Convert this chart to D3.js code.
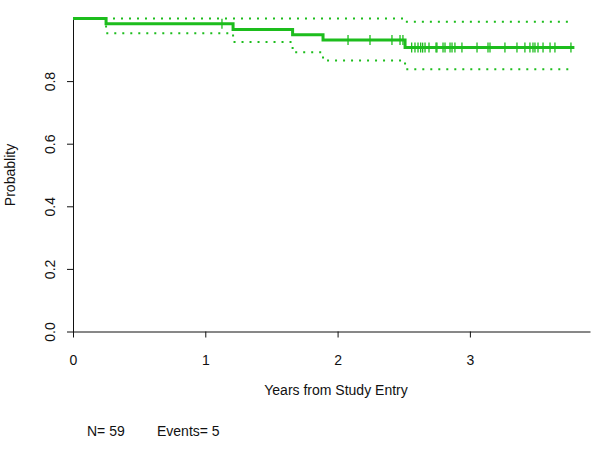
<!DOCTYPE html>
<html>
<head>
<meta charset="utf-8">
<script src="https://cdn.jsdelivr.net/npm/d3@7"></script>
<style>
  body { margin: 0; background: #fff; }
  svg text { font-family: "Liberation Sans", Arial, sans-serif; font-size: 14px; fill: #111; }
</style>
</head>
<body>
<div id="chart"></div>
<script>
// step times (years) and Kaplan-Meier estimate
var stepTimes = [0, 0.25, 1.21, 1.66, 1.89, 2.51];
var survival  = [1, 0.983, 0.965, 0.948, 0.931, 0.907];
var upperCI   = [1, 1, 1, 1, 1, 0.99];
var lowerCI   = [1, 0.953, 0.925, 0.892, 0.866, 0.838];
var lastTime = 3.79;
var lastBandTime = 3.77;

// censored observations
var censorTimes = [1.126, 2.079, 2.245, 2.411, 2.472, 2.494, 2.56, 2.585, 2.608, 2.628,
    2.643, 2.661, 2.691, 2.744, 2.751, 2.797, 2.812, 2.85, 2.865, 2.887, 2.94, 3.054,
    3.137, 3.152, 3.265, 3.356, 3.416, 3.454, 3.477, 3.492, 3.515, 3.553, 3.606, 3.643, 3.764];

var xTicks = [0, 1, 2, 3];
var yTicks = [0, 0.2, 0.4, 0.6, 0.8];
var nTotal = 59;
var nEvents = 5;

var green = "#1dbd1d";
var width = 600, height = 449;

var svg = d3.select("#chart").append("svg")
    .attr("width", width)
    .attr("height", height);

var x = d3.scaleLinear().domain([0, 3.908]).range([73, 590]);
var y = d3.scaleLinear().domain([0, 1]).range([331.5, 18.5]);

// axes
var xAxis = svg.append("g")
    .attr("transform", "translate(0," + y(0) + ")")
    .call(d3.axisBottom(x).tickValues(xTicks).tickSize(6).tickSizeOuter(0).tickFormat(d3.format("d")));
xAxis.selectAll("text").attr("y", 33).attr("dy", 0);

var yAxis = svg.append("g")
    .attr("transform", "translate(" + x(0) + ",0)")
    .call(d3.axisLeft(y).tickValues(yTicks).tickSize(6).tickSizeOuter(0).tickFormat(d3.format(".1f")));
yAxis.selectAll("text")
    .attr("transform", "rotate(-90)")
    .attr("x", 0).attr("y", -18).attr("dy", 0)
    .attr("text-anchor", "middle");

svg.selectAll(".domain, .tick line").attr("stroke", "#111");
svg.selectAll(".tick text").style("font-size", "14px").attr("fill", "#111");

function stepData(vals, end) {
    var pts = stepTimes.map(function (t, i) { return [t, vals[i]]; });
    pts.push([end, vals[vals.length - 1]]);
    return pts;
}

var line = d3.line()
    .x(function (d) { return x(d[0]); })
    .y(function (d) { return y(d[1]); })
    .curve(d3.curveStepAfter);

// confidence bands
[upperCI, lowerCI].forEach(function (band) {
    svg.append("path")
        .datum(stepData(band, lastBandTime))
        .attr("d", line)
        .attr("fill", "none")
        .attr("stroke", green)
        .attr("stroke-width", 2)
        .attr("stroke-dasharray", "2,6");
});

// survival curve
svg.append("path")
    .datum(stepData(survival, lastTime))
    .attr("d", line)
    .attr("fill", "none")
    .attr("stroke", green)
    .attr("stroke-width", 3);

// censor marks
function survAt(t) {
    var s = survival[0];
    for (var i = 0; i < stepTimes.length; i++) {
        if (stepTimes[i] <= t) s = survival[i];
    }
    return s;
}

svg.selectAll(".censor")
    .data(censorTimes)
    .enter()
    .append("line")
    .attr("class", "censor")
    .attr("x1", function (d) { return x(d); })
    .attr("x2", function (d) { return x(d); })
    .attr("y1", function (d) { return y(survAt(d)) - 5; })
    .attr("y2", function (d) { return y(survAt(d)) + 5; })
    .attr("stroke", green)
    .attr("stroke-width", 1.3);

// labels
svg.append("text")
    .attr("x", 336)
    .attr("y", 395)
    .attr("text-anchor", "middle")
    .text("Years from Study Entry");

svg.append("text")
    .attr("transform", "translate(15," + (y(0) + y(1)) / 2 + ") rotate(-90)")
    .attr("text-anchor", "middle")
    .text("Probablity");

svg.append("text")
    .attr("x", 87)
    .attr("y", 436)
    .text("N= " + nTotal);

svg.append("text")
    .attr("x", 157)
    .attr("y", 436)
    .text("Events= " + nEvents);
</script>
</body>
</html>
